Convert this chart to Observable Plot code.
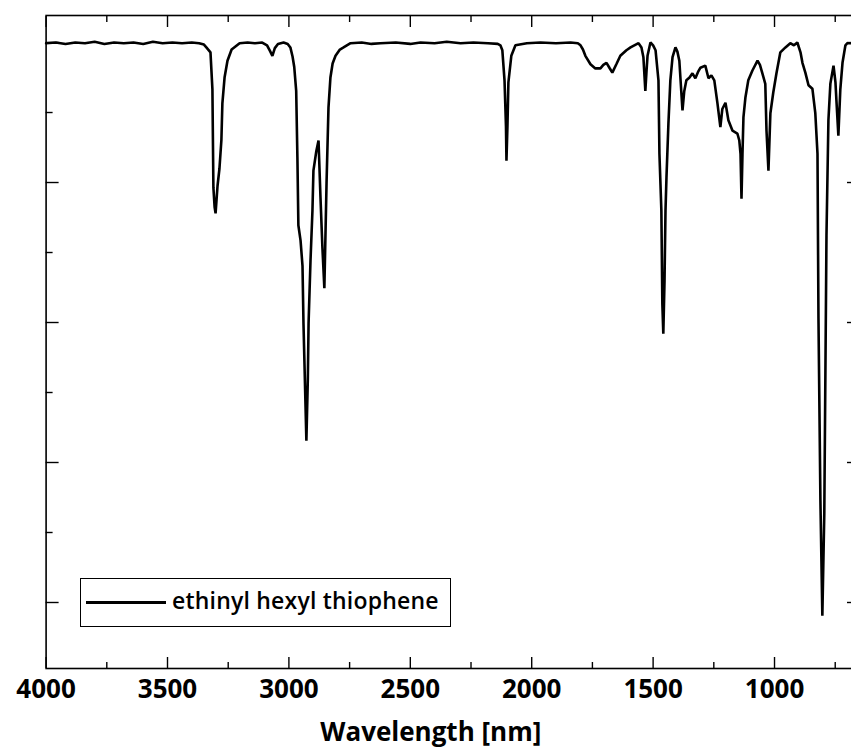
<!DOCTYPE html>
<html>
<head>
<meta charset="utf-8">
<script src="https://cdn.jsdelivr.net/npm/d3@7"></script>
<script src="https://cdn.jsdelivr.net/npm/@observablehq/plot@0.6"></script>
<style>
  html, body { margin: 0; padding: 0; background: #fff; }
  #wrap { position: relative; width: 851px; height: 751px; overflow: hidden; }
  #wrap svg { max-width: none !important; }
  #legend {
    position: absolute; left: 80px; top: 578px; width: 371px; height: 49px;
    border: 1.5px solid #000; box-sizing: border-box; background: #fff;
    font-family: "Open Sans", sans-serif; font-weight: 600; font-size: 23px;
  }
  #legend .sw { position: absolute; left: 5px; top: 22px; width: 80px; height: 3px; background: #000; }
  #legend .tx { position: absolute; left: 91px; top: 5px; letter-spacing: 0.2px; white-space: nowrap; }
</style>
</head>
<body>
<div id="wrap"><div id="legend"><div class="sw"></div><div class="tx" id="legtext"></div></div></div>
<script>
const seriesName = "ethinyl hexyl thiophene";
const xLabel = "Wavelength [nm]";

const wavenumber = [
  4000,3960,3920,3880,3840,3800,3760,3720,3680,3640,3600,3560,3520,3480,3440,3400,3370,3350,3340,
  3323,3315,3311,3306,3302,3294,3286,3278,3274,3265,3253,3236,3203,3170,3140,3110,3090,3078,3068,
  3058,3045,3022,3005,2994,2985,2978,2970,2965,2961,2952,2944,2940,2928,2922,2919,2911,2903,2899,
  2887,2878,2870,2862,2854,2845,2837,2829,2820,2808,2790,2775,2746,2700,2660,2623,2560,2500,2458,
  2400,2350,2293,2240,2180,2140,2129,2121,2112,2106,2104,2100,2096,2084,2067,2020,1964,1900,1840,
  1810,1799,1789,1779,1758,1738,1717,1705,1692,1680,1668,1650,1635,1610,1593,1560,1548,1540,1532,
  1527,1523,1511,1500,1490,1478,1474,1466,1462,1458,1453,1449,1445,1437,1429,1420,1408,1400,1392,
  1384,1379,1372,1363,1350,1338,1326,1315,1305,1285,1272,1260,1248,1235,1223,1215,1202,1190,1173,
  1153,1145,1140,1136,1132,1128,1120,1108,1091,1070,1060,1050,1038,1033,1025,1017,1005,992,976,
  955,935,920,906,893,885,873,860,844,832,823,819,811,803,795,786,778,770,757,749,745,737,729,
  720,708,700,683,660
];
const transmittance = [
  99.9,100,99.8,100,99.9,100.1,99.8,100,99.9,100,99.8,100.1,99.9,100,99.9,100,99.9,99.7,99.3,
  98.6,93.3,79.3,76.5,75.6,79.5,82,86.1,91.3,95,97.4,99,99.9,100,99.9,100,99.6,98.8,98.1,
  99.2,99.8,100,99.8,99.3,98,96.5,93.1,83.6,73.9,71.7,68.1,59.9,43.1,52,59.9,68.9,76,81.7,
  84.5,86,77.9,70.7,64.9,79.9,90.7,95,97,98.1,99,99.3,99.9,100,99.8,99.9,100,99.8,100,
  99.9,100.1,99.9,100,99.9,99.8,99.6,98.9,94.6,88,83.1,88,94.3,98.1,99.6,99.9,100,99.9,100,
  99.9,99.6,99,98.1,96.9,96.3,96.3,96.8,97.1,96.4,95.7,97,98.1,98.9,99.3,99.9,99.3,97.9,93.1,
  96,98.1,100,99.6,98.9,94.6,84.1,76,62.7,58.4,66,76,80.7,88.4,94.6,97.9,99.3,98.7,97.4,
  93,90.3,93,94.6,95,95.6,94.9,95.8,96.4,96.7,94.9,95.3,94.6,91.3,87.9,90.5,91.4,88.9,87.4,
  87,86,84.1,77.7,84,89.3,92.1,94.6,96,97.4,96.8,95.6,94.1,87.4,81.7,89.9,92.9,95.6,98.6,
  99.3,99.9,99.6,100,98.6,97.1,95.7,93.9,93.4,89.9,84.1,60.6,34.6,18.1,32.7,72.4,88.9,94.1,96.7,94.3,91.7,86.7,93.3,
  97.1,99.6,99.9,99.9,100
];

const xMajor = [4000, 3500, 3000, 2500, 2000, 1500, 1000];
const xMinor = [3750, 3250, 2750, 2250, 1750, 1250, 750];
const yMajor = [20, 40, 60, 80, 100];
const yMinor = [30, 50, 70, 90];

const data = wavenumber.map((w, i) => ({w, t: transmittance[i]}));

document.getElementById("legtext").textContent = seriesName;

const blank = () => "";
const chart = Plot.plot({
  width: 870,
  height: 751,
  marginLeft: 45.6,
  marginRight: 11,
  marginTop: 15,
  marginBottom: 83,
  style: {fontFamily: "'Open Sans', sans-serif", color: "#000", background: "transparent", overflow: "visible", maxWidth: "none"},
  x: {domain: [4000, 650], label: null},
  y: {domain: [10.57, 103.86], label: null},
  marks: [
    Plot.frame({stroke: "#000", strokeWidth: 1.6}),
    Plot.axisX(xMajor, {anchor: "bottom", tickSize: -11, tickFormat: blank, strokeWidth: 1.4}),
    Plot.axisX(xMinor, {anchor: "bottom", tickSize: -6, tickFormat: blank, strokeWidth: 1.4}),
    Plot.axisX(xMajor, {anchor: "top", tickSize: -11, tickFormat: blank, strokeWidth: 1.4}),
    Plot.axisX(xMinor, {anchor: "top", tickSize: -6, tickFormat: blank, strokeWidth: 1.4}),
    Plot.axisY(yMajor, {anchor: "left", tickSize: -13, tickFormat: blank, strokeWidth: 1.4}),
    Plot.axisY(yMinor, {anchor: "left", tickSize: -7, tickFormat: blank, strokeWidth: 1.4}),
    Plot.axisY(yMajor, {anchor: "right", tickSize: -13, tickFormat: blank, strokeWidth: 1.4}),
    Plot.axisY(yMinor, {anchor: "right", tickSize: -7, tickFormat: blank, strokeWidth: 1.4}),
    Plot.axisX(xMajor, {anchor: "bottom", tickSize: 0, tickPadding: 11, fontSize: 26, fontWeight: "bold", tickFormat: d => String(d), label: null}),
    Plot.text([xLabel], {frameAnchor: "bottom", dy: 72, dx: -22, text: d => d, fontSize: 26, fontWeight: "bold"}),
    Plot.line(data, {x: "w", y: "t", stroke: "#000", strokeWidth: 2.6, strokeLinejoin: "miter"})
  ]
});
chart.style.maxWidth = "none";
document.getElementById("wrap").insertBefore(chart, document.getElementById("legend"));
</script>
</body>
</html>
